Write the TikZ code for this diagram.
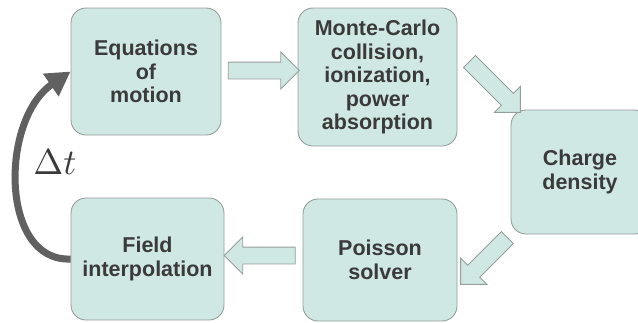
\documentclass[tikz,border=0pt]{standalone}
\usepackage{fontspec}
\setmainfont{Liberation Sans}
\usetikzlibrary{shapes.arrows,arrows.meta}
\definecolor{boxfill}{RGB}{208,232,228}
\definecolor{boxline}{RGB}{150,158,156}
\definecolor{boxtext}{RGB}{58,58,58}
\definecolor{loopgray}{RGB}{96,96,96}
\tikzset{
  stage/.style={draw=boxline, line width=0.9pt, fill=boxfill, rounded corners=15pt,
    align=center, text=boxtext, inner sep=0pt,
    font=\bfseries\fontsize{21.5}{23.5}\selectfont},
  flow/.style={single arrow, draw=boxline, line width=0.9pt, fill=boxfill,
    minimum height=71pt, inner xsep=0pt, inner ysep=8pt, single arrow head extend=10pt},
  timeloop/.style={draw=loopgray, line width=7pt, -{Triangle[length=24pt,width=26pt]}}
}
\begin{document}
\begin{tikzpicture}[x=1pt,y=-1pt]
        \useasboundingbox (0,0) rectangle (638,322);
        % Nodes
        \node[stage, minimum width=150pt, minimum height=127pt] (eq) at (146,71.5) {Equations\\of\\motion};
        \node[stage, minimum width=159pt, minimum height=138pt] (mc) at (377.5,77) {Monte-Carlo\\collision,\\ionization,\\power\\absorption};
        \node[stage, minimum width=138pt, minimum height=124pt] (cd) at (580,172) {Charge\\density};
        \node[stage, minimum width=154pt, minimum height=122pt] (ps) at (380,260) {Poisson\\solver};
        \node[stage, minimum width=153pt, minimum height=122pt] (fi) at (147.5,259) {Field\\interpolation};
        \node[text=boxtext, inner sep=0pt, scale=3.6] (dt) at (55,162.5) {$\Delta t$};
        % Arrows
        \node[flow] (a1) at (259.5,70.5) {};
        \node[flow, rotate=-45, minimum height=72pt] (a2) at (492,84) {};
        \node[flow, rotate=-135, minimum height=66pt] (a3) at (487,258) {};
        \node[flow, rotate=180] (a4) at (264,255.5) {};
        \draw[timeloop] (fi.west) .. controls (0,262) and (0,120) .. (eq.west);
\end{tikzpicture}
\end{document}
